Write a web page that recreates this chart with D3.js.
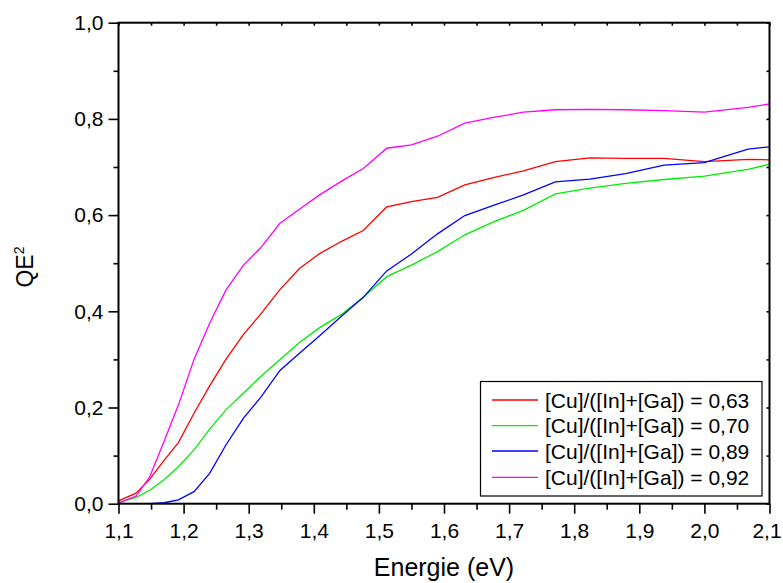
<!DOCTYPE html>
<html><head><meta charset="utf-8">
<script src="https://cdn.jsdelivr.net/npm/d3@7"></script>
<style>
body{margin:0;background:#fff;}
svg{display:block;font-family:"Liberation Sans",Arial,sans-serif;}
</style></head>
<body><svg id="c" width="783" height="583"></svg>
<script>
const energies = [1.100,1.127,1.148,1.170,1.192,1.216,1.240,1.265,1.292,1.319,1.348,1.378,1.409,1.442,1.476,1.512,1.550,1.590,1.632,1.676,1.722,1.771,1.824,1.879,1.938,2.000,2.067,2.100];
const qe063 = [0.006,0.022,0.051,0.090,0.127,0.188,0.245,0.300,0.352,0.395,0.445,0.489,0.520,0.545,0.568,0.617,0.628,0.637,0.663,0.678,0.692,0.711,0.719,0.718,0.718,0.711,0.716,0.715];
const qe070 = [0.002,0.013,0.028,0.050,0.077,0.112,0.155,0.195,0.230,0.265,0.300,0.335,0.366,0.393,0.429,0.472,0.496,0.524,0.559,0.586,0.610,0.644,0.656,0.666,0.674,0.681,0.695,0.706];
const qe089 = [0.000,0.000,0.000,0.002,0.008,0.025,0.063,0.122,0.178,0.222,0.277,0.313,0.349,0.389,0.429,0.484,0.519,0.561,0.599,0.620,0.642,0.669,0.675,0.686,0.704,0.709,0.737,0.742];
const qe092 = [0.001,0.016,0.056,0.130,0.205,0.300,0.375,0.444,0.496,0.533,0.583,0.612,0.642,0.670,0.697,0.739,0.746,0.764,0.791,0.803,0.814,0.819,0.820,0.819,0.817,0.814,0.824,0.831];
const seriesNames = ["[Cu]/([In]+[Ga]) = 0,63","[Cu]/([In]+[Ga]) = 0,70","[Cu]/([In]+[Ga]) = 0,89","[Cu]/([In]+[Ga]) = 0,92"];
const seriesColors = ["#ff0000","#00ee00","#0000ff","#ff00ff"];
const xMajor = [1.1,1.2,1.3,1.4,1.5,1.6,1.7,1.8,1.9,2.0,2.1];
const xMinor = [1.15,1.25,1.35,1.45,1.55,1.65,1.75,1.85,1.95,2.05];
const yMajor = [0,0.2,0.4,0.6,0.8,1.0];
const yMinor = [0.1,0.3,0.5,0.7,0.9];
const fmt = v => v.toFixed(1).replace(".", ",");

const svg = d3.select("#c");
const L=118.5,R=769.5,T=22.7,B=503.7;
const x = d3.scaleLinear().domain([1.1,2.1]).range([L,R]);
const y = d3.scaleLinear().domain([0,1]).range([B,T]);

svg.append("clipPath").attr("id","pc").append("rect")
  .attr("x",L).attr("y",T).attr("width",R-L).attr("height",B-T);

const line = d3.line().x((d,i)=>x(energies[i])).y(d=>y(d));
const all = [qe063,qe070,qe089,qe092];
all.forEach((s,k)=>{
  svg.append("path").datum(s).attr("d",line).attr("fill","none")
    .attr("stroke",seriesColors[k]).attr("stroke-width",1.3).attr("clip-path","url(#pc)");
});

function styleAxis(g){
  g.select(".domain").remove();
  g.selectAll("line").attr("stroke","#000").attr("stroke-width",1.6);
  g.selectAll("text").attr("fill","#000").style("font-size","21px").style("font-family","'Liberation Sans',Arial,sans-serif");
}
// bottom
const gb = svg.append("g").attr("transform",`translate(0,${B})`)
  .call(d3.axisBottom(x).tickValues(xMajor).tickFormat(fmt).tickSize(10).tickPadding(9)).call(styleAxis);
// keep the last label inside the picture
gb.selectAll("text").filter(d=>d===2.1).attr("dx",-3);
svg.append("g").attr("transform",`translate(0,${B})`)
  .call(d3.axisBottom(x).tickValues(xMinor).tickFormat("").tickSize(6)).call(styleAxis);
// left
svg.append("g").attr("transform",`translate(${L},0)`)
  .call(d3.axisLeft(y).tickValues(yMajor).tickFormat(fmt).tickSize(10).tickPadding(5)).call(styleAxis);
svg.append("g").attr("transform",`translate(${L},0)`)
  .call(d3.axisLeft(y).tickValues(yMinor).tickFormat("").tickSize(5)).call(styleAxis);
// top (inward)
svg.append("g").attr("transform",`translate(0,${T})`)
  .call(d3.axisTop(x).tickValues(xMajor.concat(xMinor)).tickFormat("").tickSize(-3)).call(styleAxis);
// right (inward)
svg.append("g").attr("transform",`translate(${R},0)`)
  .call(d3.axisRight(y).tickValues(yMajor.concat(yMinor)).tickFormat("").tickSize(-3)).call(styleAxis);

// frame
svg.append("rect").attr("x",L).attr("y",T).attr("width",R-L).attr("height",B-T)
  .attr("fill","none").attr("stroke","#000").attr("stroke-width",2);

// axis titles
svg.append("text").attr("x",444).attr("y",576).attr("text-anchor","middle")
  .style("font-size","25px").text("Energie (eV)");
const yt = svg.append("text").attr("transform","translate(33,267) rotate(-90)")
  .attr("text-anchor","middle").style("font-size","23px");
yt.append("tspan").text("QE");
yt.append("tspan").attr("dy","-9").style("font-size","14px").text("2");

// legend
const lg = svg.append("g");
lg.append("rect").attr("x",480.5).attr("y",381.5).attr("width",281.5).attr("height",114.5)
  .attr("fill","#fff").attr("stroke","#000").attr("stroke-width",1.2);
const rows=[400,425.7,451,477.3];
seriesNames.forEach((n,k)=>{
  lg.append("line").attr("x1",492).attr("x2",538).attr("y1",rows[k]).attr("y2",rows[k])
    .attr("stroke",seriesColors[k]).attr("stroke-width",1.3);
  lg.append("text").attr("x",545).attr("y",rows[k]).attr("dy","0.36em")
    .style("font-size","21px").text(n);
});
</script></body></html>
